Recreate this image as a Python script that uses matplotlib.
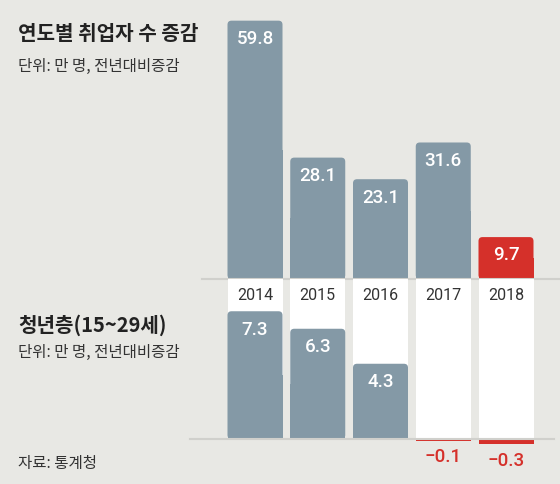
import numpy as np
import matplotlib.pyplot as plt
from matplotlib.patches import FancyBboxPatch, Rectangle

plt.rcParams['font.family'] = ['Noto Sans CJK KR', 'DejaVu Sans']

years = ['2014', '2015', '2016', '2017', '2018']
total = [59.8, 28.1, 23.1, 31.6, 9.7]
youth = [7.3, 6.3, 4.3, -0.1, -0.3]
total_labels = ['59.8', '28.1', '23.1', '31.6', '9.7']
youth_labels = ['7.3', '6.3', '4.3', '\u22120.1', '\u22120.3']

bg = '#e8e8e4'
blue = '#8499a6'
red = '#d5302a'
dark = '#222222'

W, H = 560, 485
fig = plt.figure(figsize=(W / 100, H / 100), dpi=100, facecolor=bg)

x = np.arange(len(years))
pitch = 62.75
x0 = 255
xlim = (-x0 / pitch, (W - x0) / pitch)
bw = 55 / pitch


def round_tops(ax, bars, px_y, r_px=4):
    # swap plain bar rectangles for ones with rounded top corners
    for b in bars.patches:
        bx, by = b.get_xy()
        w, h = b.get_width(), b.get_height()
        if h <= 0:
            continue
        c = b.get_facecolor()
        b.set_visible(False)
        ax.add_patch(FancyBboxPatch((bx, by), w, h,
                                    boxstyle='round,pad=0,rounding_size=%f' % (r_px / pitch),
                                    mutation_aspect=pitch / px_y, fc=c, ec='none', zorder=2))
        ax.add_patch(Rectangle((bx, by), w, h / 2, fc=c, ec='none', zorder=2))


# top chart: baseline at y=280 px, 4.32 px per unit
top_base = 280
scale1 = 4.32
ax1 = fig.add_axes([0, (H - top_base) / H, 1, top_base / H])
ax1.set_facecolor(bg)
ax1.set_xlim(*xlim)
ax1.set_ylim(0, top_base / scale1)
cols1 = [red if i == len(total) - 1 else blue for i in range(len(total))]
bars1 = ax1.bar(x, total, width=bw, color=cols1, zorder=2)
round_tops(ax1, bars1, scale1)
for xi, v, lab in zip(x, total, total_labels):
    ax1.annotate(lab, (xi, v), xytext=(0, -12.5), textcoords='offset points',
                 ha='center', va='center', color='white', fontsize=13.5,
                 family='Roboto', fontweight='medium')
ax1.axis('off')

# bottom chart: baseline at y=440 px, 17.5 px per unit
bot_base = 440
scale2 = 17.5
ax2 = fig.add_axes([0, 0, 1, (H - top_base) / H])
ax2.set_facecolor(bg)
ax2.set_xlim(*xlim)
ymax2 = (bot_base - top_base) / scale2
ax2.set_ylim(-(H - bot_base) / scale2, ymax2)
ax2.bar(x, [ymax2] * len(x), width=bw, color='white', zorder=1)
cols2 = [blue if v > 0 else red for v in youth]
bars2 = ax2.bar(x, youth, width=bw, color=cols2, zorder=2)
round_tops(ax2, bars2, scale2)
for xi, v, lab in zip(x, youth, youth_labels):
    if v > 0:
        ax2.annotate(lab, (xi, v), xytext=(0, -12.5), textcoords='offset points',
                     ha='center', va='center', color='white', fontsize=13.5,
                     family='Roboto', fontweight='medium')
    else:
        ax2.annotate(lab, (xi, v), xytext=(0, -11), textcoords='offset points',
                     ha='center', va='center', color=red, fontsize=13.5,
                     family='Roboto', fontweight='medium')
year_y = (bot_base - 296) / scale2
for xi, yr in zip(x, years):
    ax2.text(xi, year_y, yr, ha='center', va='center', color='#333333',
             fontsize=11.5, family='Roboto', zorder=3)
ax2.axhline(0, xmin=0.34, xmax=0.99, color='#d0d0cc', lw=1.5, zorder=3)
ax2.axis('off')
ax1.axhline(0, xmin=0.36, xmax=1.0, color='#d0d0cc', lw=1.5, zorder=3, clip_on=False)

# titles
fig.text(18 / W, 1 - 33 / H, '연도별 취업자 수 증감', fontsize=14.5, fontweight='bold',
         color=dark, va='center', ha='left')
fig.text(18 / W, 1 - 66 / H, '단위: 만 명, 전년대비증감', fontsize=11.2,
         color='#333333', va='center', ha='left')
fig.text(18 / W, 1 - 325 / H, '청년층(15~29세)', fontsize=14.5, fontweight='bold',
         color=dark, va='center', ha='left')
fig.text(18 / W, 1 - 352 / H, '단위: 만 명, 전년대비증감', fontsize=11.2,
         color='#333333', va='center', ha='left')
fig.text(18 / W, 1 - 464 / H, '자료: 통계청', fontsize=11.2,
         color='#333333', va='center', ha='left')

fig.savefig('out.png', dpi=100, facecolor=bg)
